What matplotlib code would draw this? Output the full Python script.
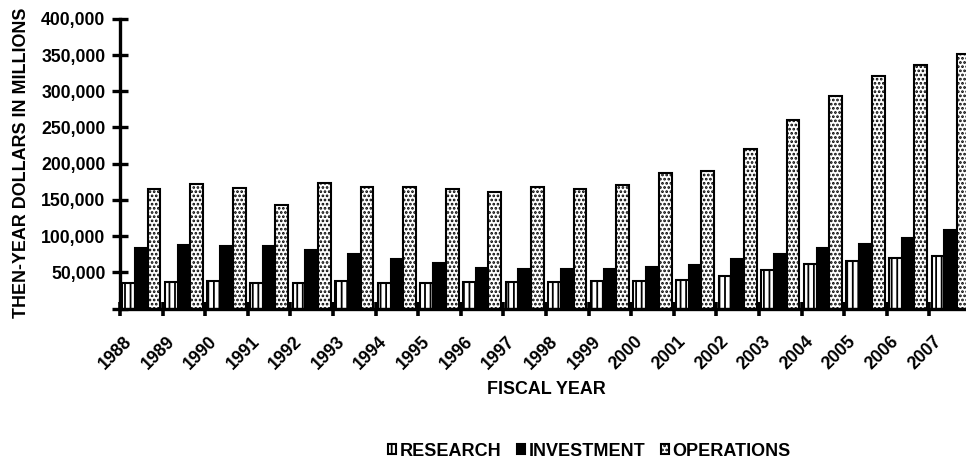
import matplotlib
matplotlib.use('Agg')
import matplotlib.pyplot as plt
import numpy as np

years = [str(y) for y in range(1988, 2008)]
research = [35000, 37000, 38000, 35000, 35000, 37500, 35000, 35000, 37000, 37000,
            37000, 37500, 37500, 39800, 44500, 53200, 61000, 65600, 69300, 72900]
investment = [84000, 87700, 86700, 86300, 80400, 75300, 67900, 62400, 56400, 54600,
              54900, 55000, 57800, 59600, 68400, 74800, 83100, 88600, 96900, 108400]
operations = [164600, 171500, 166800, 143000, 172900, 167400, 167400, 164600, 161300, 168200,
              165000, 170000, 187000, 190300, 220300, 260800, 293000, 320700, 336300, 351000]
ytick_values = [0, 50000, 100000, 150000, 200000, 250000, 300000, 350000, 400000]
ytick_labels = ['', '50,000', '100,000', '150,000', '200,000', '250,000', '300,000', '350,000', '400,000']
series_names = ['RESEARCH', 'INVESTMENT', 'OPERATIONS']

plt.rcParams['font.family'] = ['Liberation Sans', 'DejaVu Sans']
plt.rcParams['font.weight'] = 'bold'
plt.rcParams['hatch.linewidth'] = 1.3

fig = plt.figure(figsize=(9.66, 4.62), dpi=100)
ax = fig.add_axes([120/966, 153.5/462, 852/966, 289.6/462])

n = len(years)
x = np.arange(n) + 0.5
w = 0.3
b1 = ax.bar(x - w, research, w, facecolor='white', edgecolor='black', linewidth=1.5,
            hatch='|||', label=series_names[0], zorder=2)
b2 = ax.bar(x, investment, w, facecolor='black', edgecolor='black', linewidth=1.5,
            label=series_names[1], zorder=2)
b3 = ax.bar(x + w, operations, w, facecolor='white', edgecolor='black', linewidth=1.5,
            hatch='....', label=series_names[2], zorder=2)

ax.set_xlim(0, n)
ax.set_ylim(0, 400000)
ax.spines['top'].set_visible(False)
ax.spines['right'].set_visible(False)
for s in ['left', 'bottom']:
    ax.spines[s].set_linewidth(2.4)
    ax.spines[s].set_zorder(3)

ax.set_yticks(ytick_values)
ax.set_yticklabels(ytick_labels, fontsize=12.7, fontweight='bold')
ax.tick_params(axis='y', direction='inout', length=11, width=2.4, pad=5)

ax.set_xticks(np.arange(n + 1))
ax.set_xticklabels([])
ax.tick_params(axis='x', which='major', direction='inout', length=10, width=2.6)
ax.set_xticks(np.arange(n) + 0.36, minor=True)
ax.set_xticklabels(years, minor=True, rotation=45, ha='right', va='top',
                   fontsize=12.7, fontweight='bold')
ax.tick_params(axis='x', which='minor', length=0, pad=17.5)

fig.text(22/966, 1 - 163/462, 'THEN-YEAR DOLLARS IN MILLIONS', rotation=90,
         ha='center', va='center', fontsize=12.9, fontweight='bold')
fig.text(546.5/966, 1 - 389/462, 'FISCAL YEAR', ha='center', va='center',
         fontsize=12.9, fontweight='bold')

fig.legend(handles=[b1, b2, b3], labels=series_names, loc='center',
           bbox_to_anchor=(589.5/966, 1 - 451/462), ncol=3, frameon=False,
           handlelength=0.45, handleheight=0.5, handletextpad=0.2,
           columnspacing=0.85, borderpad=0, prop={'weight': 'bold', 'size': 13.0})

fig.savefig('out.png', dpi=100)
